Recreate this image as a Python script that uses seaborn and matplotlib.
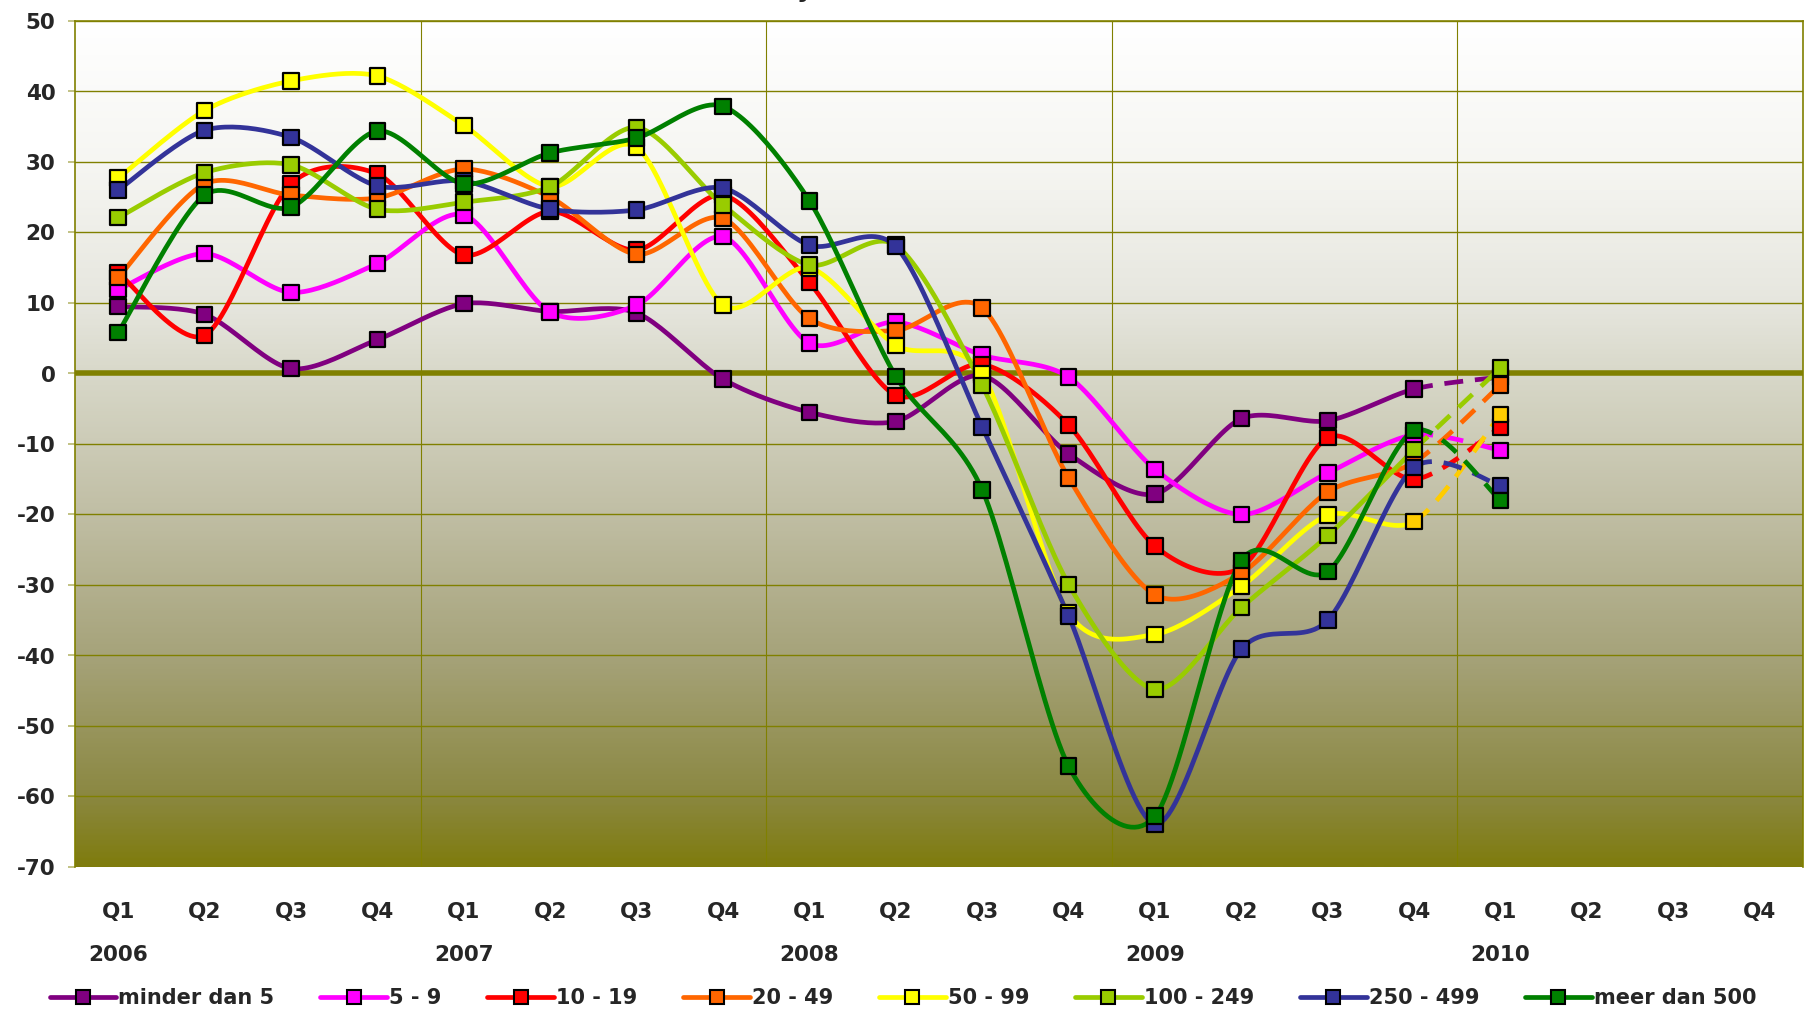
import numpy as np
import pandas as pd
import seaborn as sns
import matplotlib.pyplot as plt
import matplotlib.transforms as mtransforms
from matplotlib.lines import Line2D
from matplotlib.colors import LinearSegmentedColormap

# ---------- data ----------
quarters = ["Q1", "Q2", "Q3", "Q4"] * 5
years = ["2006", "2007", "2008", "2009", "2010"]

series_names = ["minder dan 5", "5 - 9", "10 - 19", "20 - 49",
                "50 - 99", "100 - 249", "250 - 499", "meer dan 500"]

# Q1 2006 .. Q1 2010
minder_dan_5 = [9.5, 8.4, 0.7, 4.8, 9.9, 8.8, 8.6, -0.8, -5.5, -6.8, -0.3, -11.4, -17.1, -6.4, -6.7, -2.2, -0.5]
k5_9 = [11.9, 17.0, 11.5, 15.6, 22.5, 8.7, 9.7, 19.4, 4.3, 7.3, 2.6, -0.5, -13.6, -20.0, -14.1, -8.7, -10.9]
k10_19 = [14.3, 5.4, 26.9, 28.3, 16.8, 23.0, 17.5, 25.3, 12.9, -3.1, 1.3, -7.3, -24.5, -27.5, -9.1, -15.0, -7.6]
k20_49 = [13.6, 26.9, 25.3, 24.9, 29.0, 25.0, 16.9, 22.0, 7.8, 6.1, 9.3, -14.8, -31.4, -28.3, -16.8, -12.6, -1.6]
k50_99 = [27.7, 37.3, 41.5, 42.2, 35.2, 26.5, 32.1, 9.7, 15.0, 4.0, 0.0, -34.0, -37.0, -30.2, -20.1, -21.0, -5.8]
k100_249 = [22.1, 28.5, 29.6, 23.3, 24.3, 26.5, 34.9, 23.9, 15.4, 18.2, -1.7, -29.9, -44.8, -33.2, -23.0, -10.8, 0.8]
k250_499 = [26.0, 34.5, 33.5, 26.6, 27.3, 23.3, 23.2, 26.3, 18.2, 18.0, -7.6, -34.4, -63.9, -39.1, -35.0, -13.3, -15.9]
meer_dan_500 = [5.8, 25.3, 23.6, 34.4, 26.9, 31.3, 33.4, 37.9, 24.5, -0.4, -16.5, -55.7, -62.8, -26.5, -28.1, -8.1, -18.0]

all_series = [minder_dan_5, k5_9, k10_19, k20_49, k50_99, k100_249, k250_499, meer_dan_500]
colors = ["#800080", "#FF00FF", "#FF0000", "#FF6600",
          "#FFFF00", "#99CC00", "#333399", "#008000"]

OLIVE = "#808000"


def smooth(xs, ys, n=24, tension=0.85):
    # Cardinal spline through the points (close to Excel's smoothed lines)
    p = np.column_stack([xs, ys]).astype(float)
    p = np.vstack([p[0], p, p[-1]])
    t = np.linspace(0, 1, n, endpoint=False)[:, None]
    out = []
    for i in range(1, len(p) - 2):
        p0, p1, p2, p3 = p[i - 1], p[i], p[i + 1], p[i + 2]
        m1 = 0.5 * tension * (p2 - p0)
        m2 = 0.5 * tension * (p3 - p1)
        h00 = 2 * t ** 3 - 3 * t ** 2 + 1
        h10 = t ** 3 - 2 * t ** 2 + t
        h01 = -2 * t ** 3 + 3 * t ** 2
        h11 = t ** 3 - t ** 2
        out.append(h00 * p1 + h10 * m1 + h01 * p2 + h11 * m2)
    out.append(p[-2][None, :])
    return np.vstack(out), n


sns.set_style("white")
plt.rcParams["font.family"] = ["DejaVu Sans"]
plt.rcParams["axes.unicode_minus"] = False

fig = plt.figure(figsize=(18.06, 10.13), dpi=100)
ax = fig.add_axes([75 / 1806, 1 - 867 / 1013, 1728 / 1806, 846 / 1013])

# gradient background
stops = [(0.0, "#ffffff"), (1 / 6, "#f6f6f2"), (1 / 3, "#e6e6de"),
         (50 / 120, "#d8d8c9"), (70 / 120, "#c0bea4"), (90 / 120, "#a6a37a"),
         (110 / 120, "#8b8842"), (1.0, "#7f7c0e")]
cmap = LinearSegmentedColormap.from_list("bg", stops)
grad = np.linspace(0, 1, 400)[:, None]
ax.imshow(grad, extent=[-0.5, 19.5, -70, 50], aspect="auto", cmap=cmap,
          zorder=0, interpolation="bilinear")

for v in range(-70, 51, 10):
    if v != 0:
        ax.axhline(v, color=OLIVE, lw=1.0, zorder=1)
for xv in [3.5, 7.5, 11.5, 15.5]:
    ax.axvline(xv, color=OLIVE, lw=0.8, zorder=1)
ax.axhline(0, color=OLIVE, lw=4.0, zorder=1.5)

x_pts = np.arange(len(minder_dan_5))
for name, vals, col in zip(series_names, all_series, colors):
    curve, n = smooth(x_pts, vals)
    cut = 15 * n
    solid = pd.DataFrame({"x": curve[:cut + 1, 0], "y": curve[:cut + 1, 1]})
    dashed = pd.DataFrame({"x": curve[cut:, 0], "y": curve[cut:, 1]})
    last_col = "#FFCC00" if name == "50 - 99" else col
    sns.lineplot(data=solid, x="x", y="y", ax=ax, color=col, lw=3.4,
                 sort=False, estimator=None, zorder=2)
    sns.lineplot(data=dashed, x="x", y="y", ax=ax, color=last_col, lw=3.4,
                 sort=False, estimator=None, zorder=2, dashes=False,
                 linestyle=(0, (4, 2.5)))
    face = [col] * 15 + [last_col] * 2
    pts = pd.DataFrame({"x": x_pts, "y": vals})
    sns.scatterplot(data=pts, x="x", y="y", ax=ax, marker="s", s=125,
                    color=face, edgecolor="black", linewidth=1.6, zorder=3)

ax.set_xlim(-0.5, 19.5)
ax.set_ylim(-70, 50)
ax.set_xlabel("")
ax.set_ylabel("")
ax.set_yticks(range(-70, 51, 10))
ax.set_yticklabels([str(v) for v in range(-70, 51, 10)],
                   fontsize=15.5, fontweight="bold")
ax.set_xticks(range(20))
ax.set_xticklabels(quarters, fontsize=15.5, fontweight="bold")
ax.tick_params(axis="y", length=5, color="#b8b870", width=1.2, pad=9, left=True)
ax.tick_params(axis="x", length=0, pad=25)
for side in ["top", "right", "left"]:
    ax.spines[side].set_color(OLIVE)
    ax.spines[side].set_linewidth(1.2)
ax.spines["bottom"].set_visible(False)

trans = mtransforms.blended_transform_factory(ax.transData, ax.transAxes)
for i, yr in enumerate(years):
    ax.text(i * 4, -0.104, yr, transform=trans, ha="center", va="center",
            fontsize=15.5, fontweight="bold")

# title is cut off at the top edge in the reference, only a descender shows
fig.text(805 / 1806, 1 + 3 / 1013, "y", ha="center", va="baseline",
         fontsize=18, fontweight="bold")

handles = [Line2D([0], [0], color=c, lw=3.4, marker="s", markersize=10,
                  markerfacecolor=c, markeredgecolor="black", markeredgewidth=1.5)
           for c in colors]
fig.legend(handles, series_names, loc="center", bbox_to_anchor=(0.5, 15 / 1013),
           ncol=8, frameon=False, handlelength=3.2, handletextpad=0.1,
           columnspacing=2.2, prop={"size": 15, "weight": "bold"})

fig.savefig("out.png", dpi=100)
